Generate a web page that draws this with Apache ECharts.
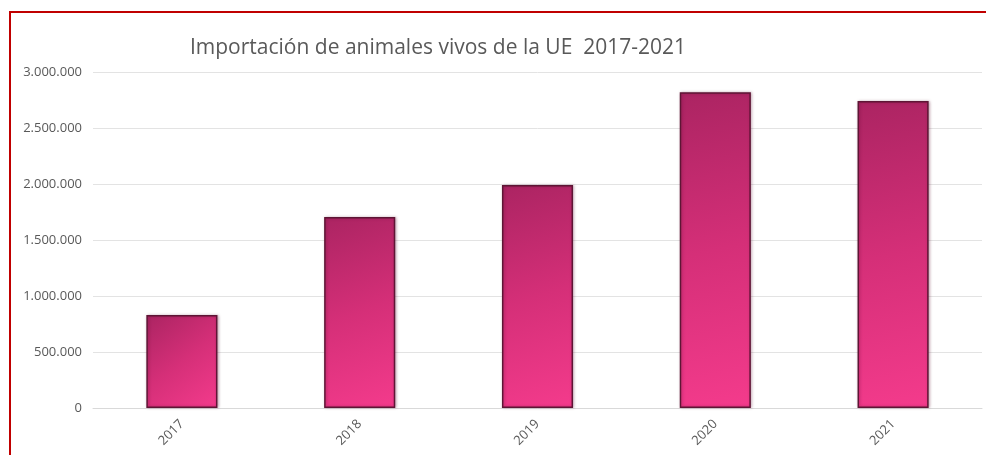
<!DOCTYPE html>
<html><head><meta charset="utf-8">
<script src="https://cdn.jsdelivr.net/npm/echarts@6/dist/echarts.min.js"></script>
<style>html,body{margin:0;padding:0;background:#fff;}#c{width:986px;height:455px;}
#frame{position:absolute;left:9px;top:11px;width:990px;height:460px;border:2px solid #c00000;box-sizing:border-box;pointer-events:none;}</style>
</head><body>
<div id="c"></div><div id="frame"></div>
<script>
const categories = ['2017','2018','2019','2020','2021'];
const values = [830000, 1705000, 1990000, 2820000, 2740000];
const yTicks = [0, 500000, 1000000, 1500000, 2000000, 2500000, 3000000];

function fmt(v){ return String(v).replace(/\B(?=(\d{3})+(?!\d))/g,'.'); }

const chart = echarts.init(document.getElementById('c'));
chart.setOption({
  animation:false,
  title:{text:'Importación de animales vivos de la UE  2017-2021', left:433, top:33, textAlign:'center',
    textStyle:{fontFamily:'"Open Sans", sans-serif', fontSize:21, fontWeight:'normal', color:'#595959'}},
  grid:{left:93, right:4, top:72, bottom:47},
  xAxis:{type:'category', data:categories, axisLine:{show:true, lineStyle:{color:'#d9d9d9'}}, axisTick:{show:false},
    axisLabel:{rotate:45, color:'#595959', fontSize:13, margin:14, fontFamily:'"Open Sans", sans-serif'}},
  yAxis:{type:'value', min:yTicks[0], max:yTicks[yTicks.length-1], interval:500000,
    axisLine:{show:false}, axisTick:{show:false},
    splitLine:{lineStyle:{color:'#e3e3e3'}},
    axisLabel:{formatter:fmt, color:'#595959', fontSize:13, margin:11, fontFamily:'"Open Sans", sans-serif'}},
  series:[{type:'bar', data:values, barWidth:'40%',
    itemStyle:{
      color:new echarts.graphic.LinearGradient(0,0,1,1,[
        {offset:0,color:'#ab2462'},{offset:0.5,color:'#d52f78'},{offset:1,color:'#f43b8c'}]),
      borderColor:'#5e1535', borderWidth:1.5,
      shadowColor:'rgba(90,10,45,0.35)', shadowBlur:3, shadowOffsetX:1, shadowOffsetY:0
    }}]
});
</script>
</body></html>
